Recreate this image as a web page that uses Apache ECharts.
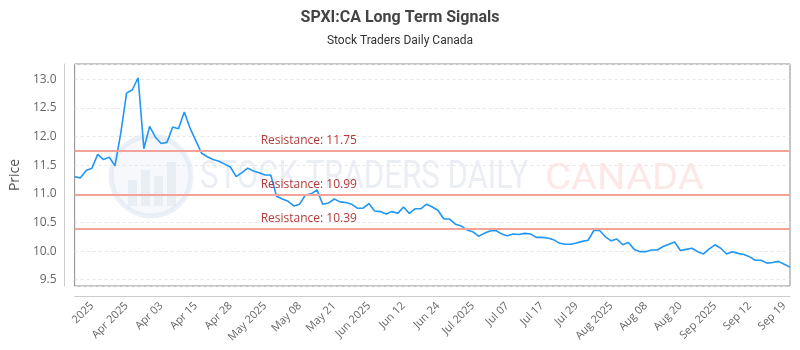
<!DOCTYPE html>
<html>
<head>
<meta charset="utf-8">
<script src="https://cdn.jsdelivr.net/npm/echarts@6/dist/echarts.min.js"></script>
<style>
html,body{margin:0;padding:0;background:#fff;}
#chart{width:800px;height:350px;}
</style>
</head>
<body>
<div id="chart"></div>
<script>
const chartTitle = 'SPXI:CA Long Term Signals';
const chartSubtitle = 'Stock Traders Daily Canada';

const tickLabels = ['2025', 'Apr 2025', 'Apr 03', 'Apr 15', 'Apr 28', 'May 2025', 'May 08', 'May 21',
  'Jun 2025', 'Jun 12', 'Jun 24', 'Jul 2025', 'Jul 07', 'Jul 17', 'Jul 29', 'Aug 2025', 'Aug 08',
  'Aug 20', 'Sep 2025', 'Sep 12', 'Sep 19'];

const priceValues = [
  11.30, 11.28, 11.41, 11.45, 11.69, 11.60, 11.64, 11.49, 12.06, 12.76,
  12.82, 13.03, 11.79, 12.18, 11.99, 11.88, 11.90, 12.17, 12.14, 12.43,
  12.15, 11.93, 11.71, 11.65, 11.60, 11.57, 11.52, 11.47, 11.30, 11.37,
  11.45, 11.40, 11.37, 11.33, 11.33, 10.96, 10.91, 10.87, 10.79, 10.82,
  10.98, 11.00, 11.07, 10.82, 10.84, 10.91, 10.86, 10.85, 10.82, 10.75,
  10.75, 10.83, 10.70, 10.69, 10.65, 10.69, 10.66, 10.77, 10.66, 10.74,
  10.74, 10.82, 10.77, 10.71, 10.56, 10.56, 10.47, 10.44, 10.37, 10.34,
  10.26, 10.31, 10.35, 10.36, 10.30, 10.27, 10.30, 10.29, 10.31, 10.30,
  10.24, 10.24, 10.23, 10.20, 10.14, 10.12, 10.12, 10.14, 10.17, 10.19,
  10.36, 10.36, 10.25, 10.18, 10.21, 10.11, 10.15, 10.03, 9.99, 9.99,
  10.02, 10.02, 10.08, 10.12, 10.16, 10.01, 10.03, 10.05, 9.99, 9.95,
  10.04, 10.11, 10.05, 9.95, 9.99, 9.96, 9.94, 9.90, 9.84, 9.84,
  9.79, 9.80, 9.82, 9.77, 9.72
];

const resistanceLevels = [11.75, 10.99, 10.39];

// one category per point; every sixth point (from the fourth) carries a tick label
const categories = priceValues.map((v, i) =>
  ((i - 3) % 6 === 0 && tickLabels[(i - 3) / 6] !== undefined) ? tickLabels[(i - 3) / 6] : ('#' + i));

const chart = echarts.init(document.getElementById('chart'), null, {renderer: 'canvas'});

const option = {
  animation: false,
  backgroundColor: '#fff',
  title: {
    text: chartTitle,
    subtext: chartSubtitle,
    left: 'center',
    top: 5,
    itemGap: 9,
    textStyle: {fontFamily: 'Roboto', fontSize: 16, fontWeight: 'bold', color: '#444'},
    subtextStyle: {fontFamily: 'Roboto', fontSize: 12, color: '#333'}
  },
  graphic: [
    {type: 'circle', silent: true, z: 0, shape: {cx: 151, cy: 176, r: 40},
      style: {fill: 'rgba(228,234,244,0.35)', stroke: 'rgba(218,226,239,0.5)', lineWidth: 5}},
    {type: 'rect', silent: true, z: 0, shape: {x: 128, y: 180, width: 9, height: 26}, style: {fill: 'rgba(214,223,237,0.4)'}},
    {type: 'rect', silent: true, z: 0, shape: {x: 141, y: 170, width: 9, height: 36}, style: {fill: 'rgba(214,223,237,0.4)'}},
    {type: 'rect', silent: true, z: 0, shape: {x: 154, y: 176, width: 9, height: 30}, style: {fill: 'rgba(214,223,237,0.4)'}},
    {type: 'rect', silent: true, z: 0, shape: {x: 167, y: 162, width: 9, height: 44}, style: {fill: 'rgba(214,223,237,0.4)'}},
    {type: 'text', silent: true, z: 0, x: 200, y: 178, scaleX: 0.82,
      style: {text: 'STOCK TRADERS DAILY', font: '38px Roboto', fill: 'rgba(226,231,240,0.7)', verticalAlign: 'middle'}},
    {type: 'text', silent: true, z: 0, x: 545, y: 180, scaleX: 1.08,
      style: {text: 'CANADA', font: '37px Roboto', fill: 'rgba(252,222,222,0.7)', verticalAlign: 'middle'}}
  ],
  grid: {
    left: 70, right: 10, top: 64, bottom: 64,
    show: true, borderColor: '#8a8a8a', borderWidth: 1, backgroundColor: 'transparent'
  },
  xAxis: {
    type: 'category',
    data: categories,
    boundaryGap: false,
    offset: 10,
    axisLine: {show: true, lineStyle: {color: '#ccc', width: 1}},
    axisTick: {show: false},
    splitLine: {show: false},
    axisLabel: {
      rotate: 45,
      interval: (idx, val) => tickLabels.indexOf(val) !== -1,
      fontFamily: 'Open Sans',
      fontSize: 11,
      color: '#666',
      margin: 8
    }
  },
  yAxis: {
    type: 'value',
    min: 9.39,
    max: 13.27,
    minInterval: 0.5,
    maxInterval: 0.5,
    splitNumber: 8,
    offset: 10,
    name: 'Price',
    nameLocation: 'middle',
    nameGap: 35,
    nameTextStyle: {fontFamily: 'Open Sans', fontSize: 14, color: '#555'},
    axisLine: {show: true, lineStyle: {color: '#ccc', width: 1}},
    axisTick: {show: false},
    axisLabel: {
      showMinLabel: false,
      showMaxLabel: false,
      formatter: v => (Math.abs(v * 2 - Math.round(v * 2)) < 1e-6 ? v.toFixed(1) : ''),
      fontFamily: 'Open Sans',
      fontSize: 12,
      color: '#666',
      margin: 8
    },
    splitLine: {show: true, lineStyle: {color: '#e6e6e6', type: [3, 3], width: 1}}
  },
  series: [{
    type: 'line',
    data: priceValues,
    showSymbol: false,
    symbol: 'none',
    z: 3,
    lineStyle: {color: '#2196f3', width: 1.6},
    markLine: {
      silent: true,
      symbol: 'none',
      animation: false,
      lineStyle: {color: '#f4a39b', type: 'solid', width: 2},
      label: {
        position: 'insideStartTop',
        distance: [186, 4],
        formatter: p => 'Resistance: ' + p.value,
        fontFamily: 'Open Sans',
        fontSize: 12,
        color: '#b33a3a'
      },
      data: resistanceLevels.map(v => ({yAxis: v}))
    }
  }]
};

chart.setOption(option);
</script>
</body>
</html>
